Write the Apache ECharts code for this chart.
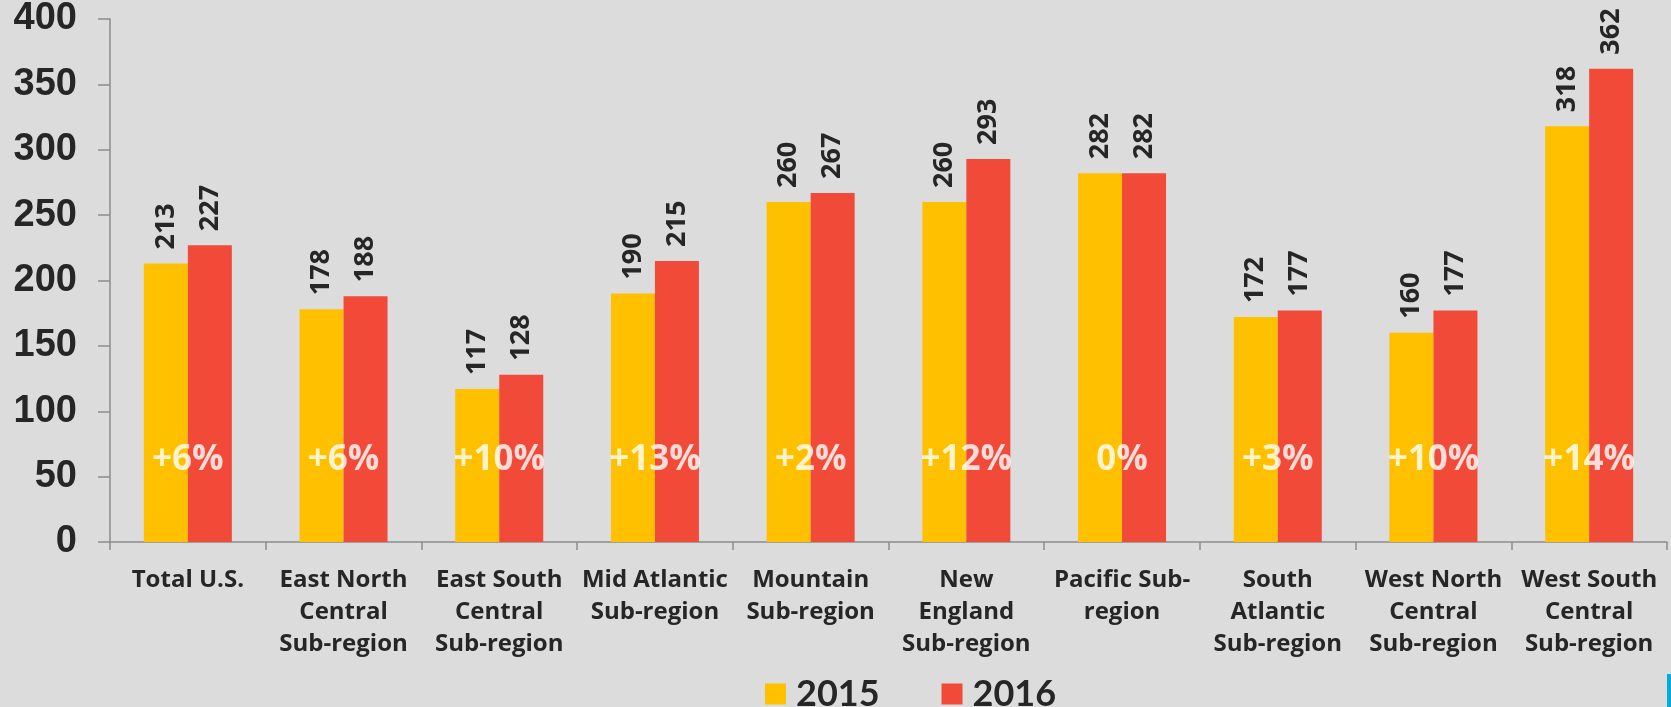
<!DOCTYPE html>
<html>
<head>
<meta charset="utf-8">
<script src="https://cdn.jsdelivr.net/npm/echarts@6/dist/echarts.min.js"></script>
<style>
  html, body { margin: 0; padding: 0; background: #dcdcdc; }
  #chart { width: 1671px; height: 707px; }
</style>
</head>
<body>
<div id="chart"></div>
<script>
const categories = [
  'Total U.S.',
  'East North\nCentral\nSub-region',
  'East South\nCentral\nSub-region',
  'Mid Atlantic\nSub-region',
  'Mountain\nSub-region',
  'New\nEngland\nSub-region',
  'Pacific Sub-\nregion',
  'South\nAtlantic\nSub-region',
  'West North\nCentral\nSub-region',
  'West South\nCentral\nSub-region'
]
const values2015 = [213, 178, 117, 190, 260, 260, 282, 172, 160, 318]
const values2016 = [227, 188, 128, 215, 267, 293, 282, 177, 177, 362]
const changeLabels = ['+6%', '+6%', '+10%', '+13%', '+2%', '+12%', '0%', '+3%', '+10%', '+14%']
const yTicks = [0, 50, 100, 150, 200, 250, 300, 350, 400]

// height at which the white change labels sit inside the bars
const changeLabelLevel = 63

const textColor = '#262626'
const axisColor = '#8c8c8c'
const catFont = '"Open Sans", Lato, sans-serif'

const chart = echarts.init(document.getElementById('chart'))

const valueLabel = {
  show: true,
  position: 'top',
  rotate: 90,
  align: 'left',
  verticalAlign: 'middle',
  distance: 14,
  color: textColor,
  fontFamily: catFont,
  fontWeight: 'bold',
  fontSize: 27,
}

chart.setOption({
  backgroundColor: '#dcdcdc',
  animation: false,
  grid: { left: 110, right: 4, top: 17, bottom: 165 },
  legend: {
    left: 760,
    top: 671,
    itemWidth: 21,
    itemHeight: 21,
    itemGap: 62,
    icon: 'rect',
    data: ['2015', '2016'],
    textStyle: {
      color: textColor,
      fontFamily: 'Lato, sans-serif',
      fontWeight: 'bold',
      fontSize: 36,
      padding: [0, 0, 0, 5],
    },
  },
  xAxis: {
    type: 'category',
    data: categories,
    axisLine: { lineStyle: { color: axisColor, width: 1.5 } },
    axisTick: { show: true, length: 8, lineStyle: { color: axisColor, width: 1.5 } },
    axisLabel: {
      interval: 0,
      margin: 22,
      color: textColor,
      fontFamily: catFont,
      fontWeight: 'bold',
      fontSize: 24,
      lineHeight: 32,
    },
  },
  yAxis: {
    type: 'value',
    min: yTicks[0],
    max: yTicks[yTicks.length - 1],
    interval: yTicks[1] - yTicks[0],
    splitLine: { show: false },
    axisLine: { show: true, lineStyle: { color: axisColor, width: 1.5 } },
    axisTick: { show: true, length: 12, lineStyle: { color: axisColor, width: 1.5 } },
    axisLabel: {
      margin: 33,
      color: textColor,
      fontFamily: '"Liberation Sans", Arial, sans-serif',
      fontWeight: 'bold',
      fontSize: 38,
    },
  },
  series: [
    {
      name: '2015',
      type: 'bar',
      data: values2015,
      barWidth: 44,
      barGap: '0%',
      itemStyle: { color: '#ffc000' },
      label: valueLabel,
    },
    {
      name: '2016',
      type: 'bar',
      data: values2016,
      barWidth: 44,
      itemStyle: { color: '#f24a38' },
      label: valueLabel,
    },
    {
      name: 'change',
      type: 'scatter',
      symbolSize: 0,
      silent: true,
      data: changeLabels.map(() => changeLabelLevel),
      label: {
        show: true,
        position: 'inside',
        formatter: p => changeLabels[p.dataIndex],
        color: '#ffffff',
        fontFamily: catFont,
        fontWeight: 'bold',
        fontSize: 35,
      },
      z: 5,
    },
  ],
  graphic: [
    { type: 'rect', right: 0, top: 674, shape: { width: 4, height: 33 }, style: { fill: '#0aa9dc' } },
  ],
})
</script>
</body>
</html>
